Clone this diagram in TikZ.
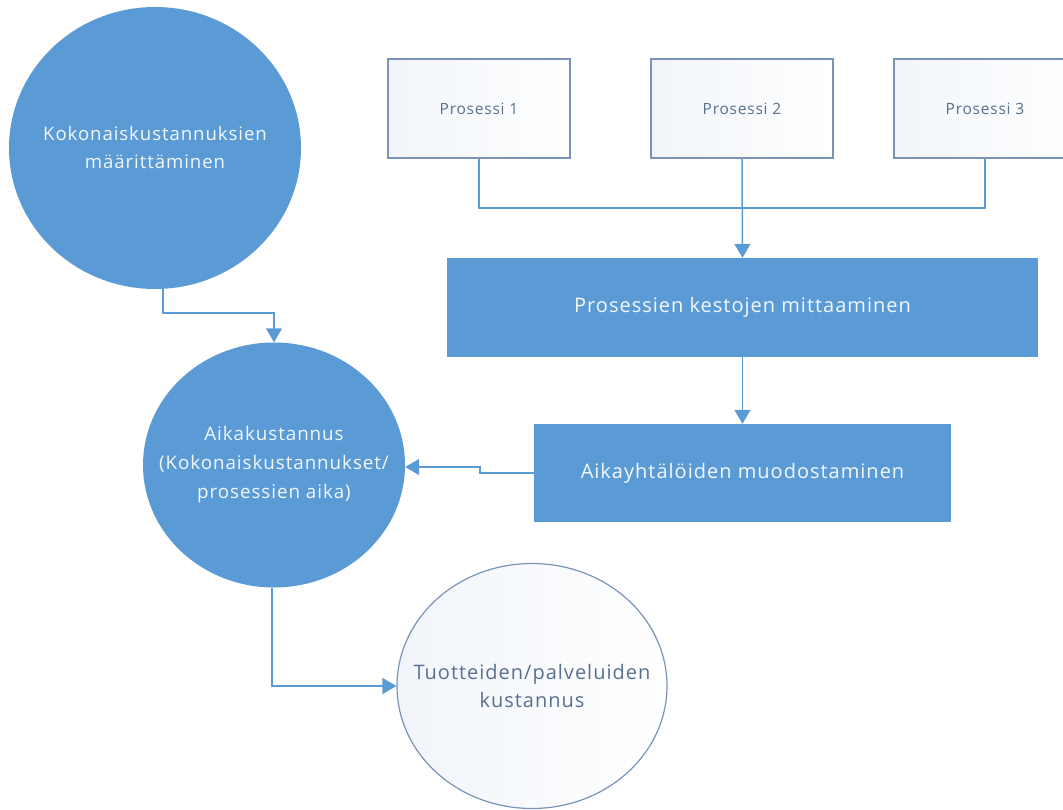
\documentclass[tikz,border=0pt]{standalone}
\usepackage{fontspec}
\setmainfont{Open Sans}[LetterSpace=5]
\usetikzlibrary{arrows.meta,shapes.geometric}
\definecolor{myblue}{HTML}{5B9BD5}
\definecolor{lineblue}{HTML}{5B9BD5}
\definecolor{boxedge}{HTML}{7A93B8}
\definecolor{boxtext}{HTML}{5A7090}
\definecolor{boxshade}{HTML}{F1F5FA}
\definecolor{whitetext}{HTML}{F2F7FC}
\tikzset{
  bluecirc/.style={ellipse,fill=myblue,draw=none,inner sep=0pt},
  whitecirc/.style={ellipse,draw=boxedge,line width=1.2pt,left color=boxshade,right color=white,inner sep=0pt},
  intext/.style={text=whitetext,align=center,inner sep=0pt},
  outtext/.style={text=boxtext,align=center,inner sep=0pt},
  bluebox/.style={rectangle,fill=myblue,draw=none,text=whitetext,inner sep=0pt,align=center,font=\fontsize{20}{28}\selectfont},
  probox/.style={rectangle,draw=boxedge,line width=1.2pt,left color=boxshade,right color=white,text=boxtext,inner sep=0pt,minimum width=182pt,minimum height=99pt,font=\fontsize{15.5}{18}\selectfont},
  conn/.style={draw=lineblue,line width=1.5pt},
  arr/.style={conn,-{Triangle[length=14pt,width=16pt]}}
}
\begin{document}
\begin{tikzpicture}[x=1pt,y=-1pt]
\useasboundingbox (0,0) rectangle (1063,810);
\node[bluecirc,minimum width=292pt,minimum height=282pt] (c1) at (155,148) {};
\node[intext,font=\fontsize{18.6}{28}\selectfont] (c1t) at (c1.center) {Kokonaiskustannuksien\\määrittäminen};
\node[bluecirc,minimum width=262pt,minimum height=245pt] (c2) at (274,465) {};
\node[intext,font=\fontsize{18.8}{29}\selectfont] (c2t) at (c2.center) {Aikakustannus\\(Kokonaiskustannukset/\\prosessien aika)};
\node[whitecirc,minimum width=270pt,minimum height=245pt] (c3) at (532,686) {};
\node[outtext,font=\fontsize{20}{28}\selectfont] (c3t) at (c3.center) {Tuotteiden/palveluiden\\kustannus};
\node[probox] (p1) at (479,108.5) {Prosessi 1};
\node[probox] (p2) at (742,108.5) {Prosessi 2};
\node[probox] (p3) at (985,108.5) {Prosessi 3};
\node[bluebox,minimum width=591pt,minimum height=99pt] (big) at (742.5,307.5) {Prosessien kestojen mittaaminen};
\node[bluebox,minimum width=417pt,minimum height=98pt] (aik) at (742.5,473) {Aikayhtälöiden muodostaminen};
\coordinate (j) at (742,208);
\coordinate (m1) at (163,313);
\coordinate (k) at (480,467);
\coordinate (m2) at (272,686);
\draw[conn] (p1.south) |- (j) -| (p3.south);
\draw[arr] (p2.south) -- (big.north);
\draw[arr] (big.south) -- (aik.north);
\draw[arr] (c1.south -| m1) -- (m1) -| (c2.north);
\draw[arr] (aik.west) -| (k) -- (k -| c2.east);
\draw[arr] (c2.south -| m2) -- (m2) -- (c3.west);
\end{tikzpicture}
\end{document}
